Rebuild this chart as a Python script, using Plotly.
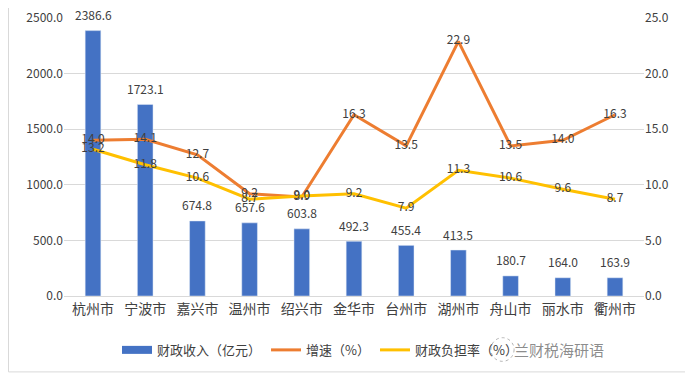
import plotly.graph_objects as go

cities = ["杭州市", "宁波市", "嘉兴市", "温州市", "绍兴市", "金华市", "台州市", "湖州市", "舟山市", "丽水市", "衢州市"]
revenue = [2386.6, 1723.1, 674.8, 657.6, 603.8, 492.3, 455.4, 413.5, 180.7, 164.0, 163.9]
growth = [14.0, 14.1, 12.7, 9.2, 8.9, 16.3, 13.5, 22.9, 13.5, 14.0, 16.3]
burden = [13.2, 11.8, 10.6, 8.7, 9.0, 9.2, 7.9, 11.3, 10.6, 9.6, 8.7]
left_ticks = [0, 500, 1000, 1500, 2000, 2500]
right_ticks = [0, 5, 10, 15, 20, 25]

FONT = "Noto Sans CJK SC, Microsoft YaHei, sans-serif"
TXT = "#404040"
BLUE = "#4472C4"

fig = go.Figure()
fig.add_trace(go.Bar(x=cities, y=revenue, name="财政收入（亿元）", marker_color=BLUE,
                     width=0.3, yaxis="y", showlegend=False))
# legend-only entry to get a wide rectangle swatch like the reference
fig.add_trace(go.Scatter(x=[None], y=[None], name="财政收入（亿元）", mode="lines",
                         line=dict(color=BLUE, width=8), yaxis="y"))
fig.add_trace(go.Scatter(x=cities, y=growth, name="增速（%）", mode="lines+text",
                         line=dict(color="#ED7D31", width=3), text=[f"{v:.1f}" for v in growth],
                         textposition="middle center", textfont=dict(size=12, color=TXT, family=FONT),
                         yaxis="y2"))
fig.add_trace(go.Scatter(x=cities, y=burden, name="财政负担率（%）", mode="lines+text",
                         line=dict(color="#FFC000", width=3), text=[f"{v:.1f}" for v in burden],
                         textposition="middle center", textfont=dict(size=12, color=TXT, family=FONT),
                         yaxis="y2"))

for c, v in zip(cities, revenue):
    fig.add_annotation(x=c, y=v, xref="x", yref="y", text=f"{v:.1f}", showarrow=False,
                       yshift=16, font=dict(size=12, color=TXT, family=FONT))

# watermark
fig.add_annotation(x=0.935, y=-0.194, xref="paper", yref="paper", xanchor="right", yanchor="middle",
                   text="兰财税海研语", showarrow=False,
                   font=dict(size=15, color="rgba(110,110,110,0.8)", family=FONT))
fig.add_shape(type="circle", xref="paper", yref="paper", x0=0.736, x1=0.776, y0=-0.235, y1=-0.15,
              line=dict(color="rgba(150,150,150,0.7)", width=1, dash="dot"))

fig.add_shape(type="rect", xref="paper", yref="paper", x0=-0.0957, x1=1.081, y0=-0.273, y1=1.08,
              line=dict(color="#D9D9D9", width=1))

fig.update_layout(
    width=685, height=367,
    margin=dict(l=56, r=49, t=10, b=79, autoexpand=False),
    paper_bgcolor="white", plot_bgcolor="white",
    font=dict(family=FONT, color=TXT, size=12),
    showlegend=True,
    legend=dict(orientation="h", x=0.0914, xanchor="left", y=-0.194, yanchor="middle",
                bgcolor="rgba(0,0,0,0)",
                font=dict(size=13, color=TXT, family=FONT), traceorder="normal"),
    xaxis=dict(showgrid=False, showline=True, linecolor="#D9D9D9", ticks="", automargin=False,
               tickfont=dict(size=14, color=TXT, family=FONT)),
    yaxis=dict(range=[0, 2500], tickvals=left_ticks, tickformat=".1f", showgrid=True,
               gridcolor="#D9D9D9", zeroline=False, showline=False, ticks="", automargin=False,
               tickfont=dict(size=12, color=TXT, family=FONT)),
    yaxis2=dict(range=[0, 25], tickvals=right_ticks, tickformat=".1f", overlaying="y", side="right",
                showgrid=False, zeroline=False, showline=False, ticks="", automargin=False,
                tickfont=dict(size=12, color=TXT, family=FONT)),
)

fig.write_html("out.html")
